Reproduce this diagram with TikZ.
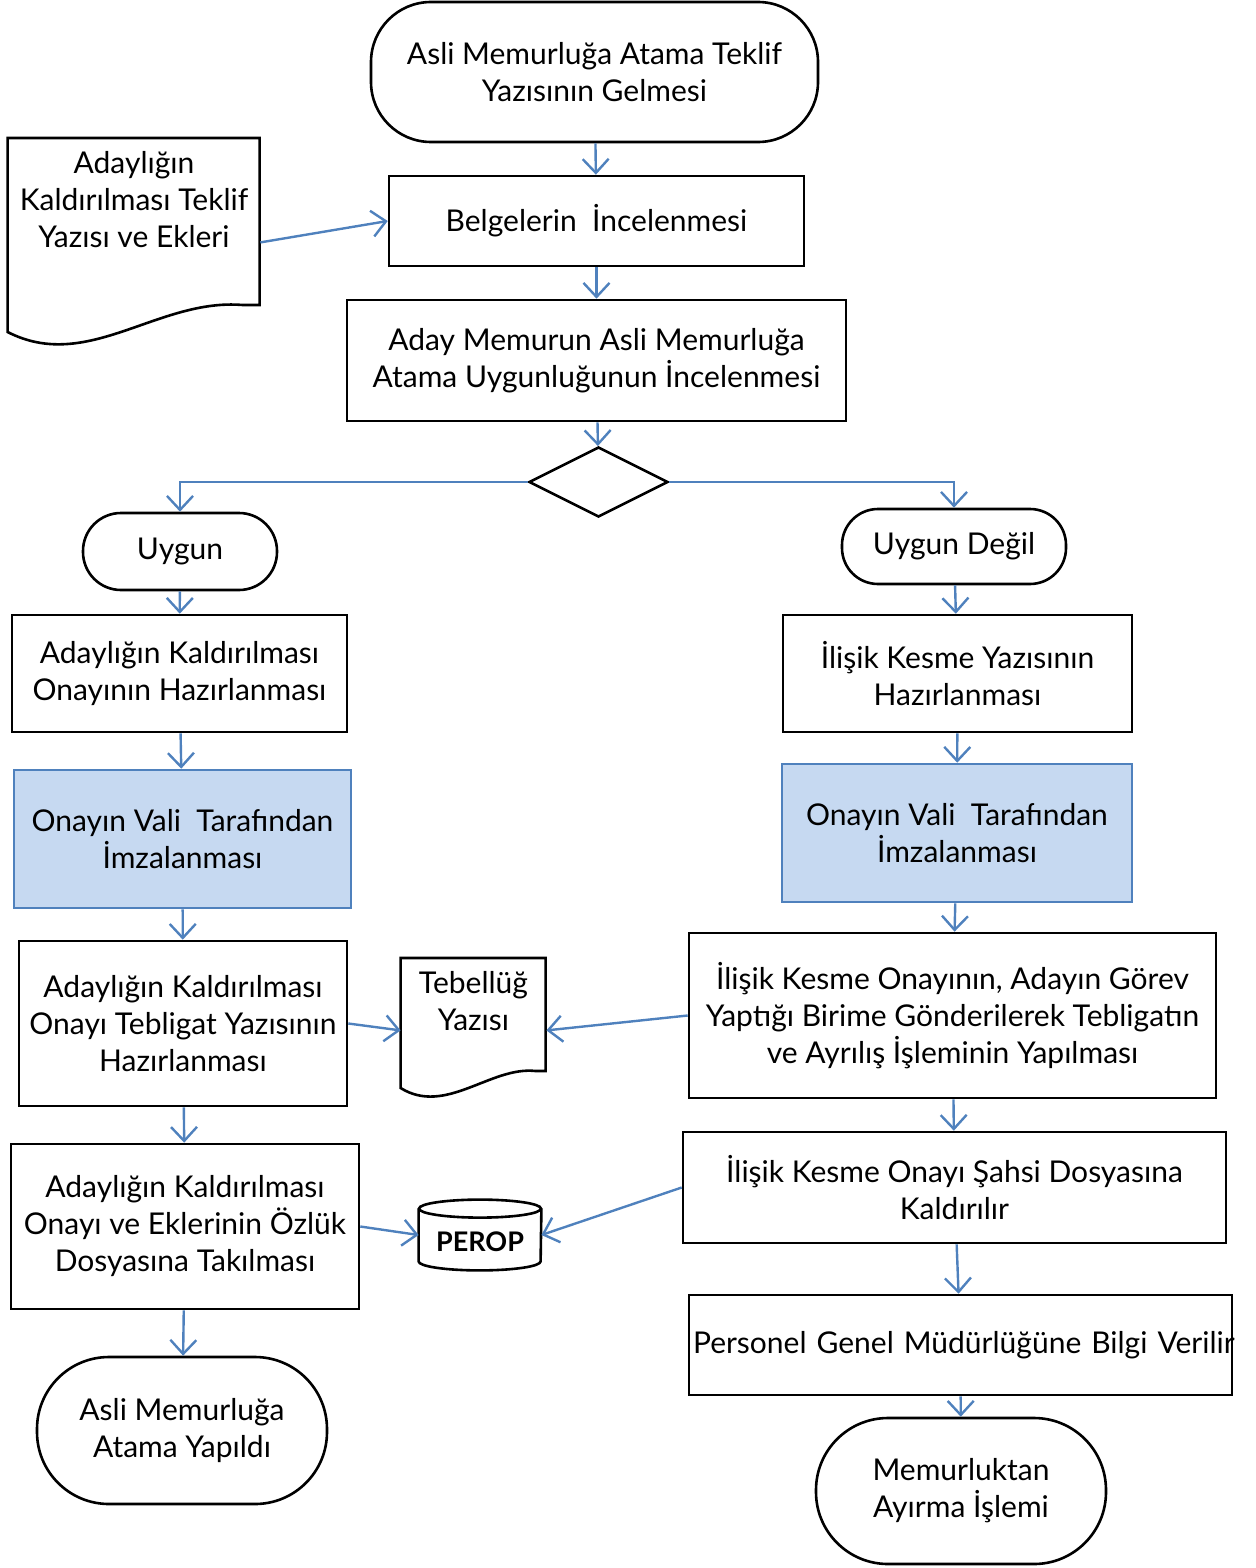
\documentclass[tikz,border=0pt]{standalone}
\usepackage{fontspec}
\setmainfont{Lato}
\usetikzlibrary{shapes.geometric,arrows.meta,calc}
\definecolor{lineblue}{RGB}{79,129,189}
\definecolor{fillblue}{RGB}{198,217,241}
\newcommand\flowfont{\fontsize{15}{18.5}\selectfont}

\begin{document}
\begin{tikzpicture}[
x=0.5pt,
y=-0.5pt,
shapeline/.style={
  draw,
  line width=1.3pt
  },
box/.style={
  shapeline,
  rectangle,
  align=center,
  inner sep=2pt,
  font=\flowfont
  },
term/.style={
  box,
  rounded corners=#1
  },
bluebox/.style={
  box,
  draw=lineblue,
  fill=fillblue
  },
plain/.style={
  draw=none,
  fill=none,
  inner sep=0pt
  },
doctext/.style={
  anchor=north,
  align=center,
  inner ysep=6.5pt,
  font=\flowfont
  },
flow/.style={
  ->,
  draw=lineblue,
  line width=1.2pt
  },
>={Straight Barb[length=7pt,width=13pt]}
]
\useasboundingbox (0,0) rectangle (1256,1568);

% top part
\node[term=30pt, minimum width=223.5pt, minimum height=70pt] (start) at (594.5,72)
  {Asli Memurluğa Atama Teklif\\Yazısının Gelmesi};
\node[plain, minimum width=126pt, minimum height=104pt, anchor=north,
  label={[doctext]north:{Adaylığın\\Kaldırılması Teklif\\Yazısı ve Ekleri}}] (teklif) at (134,138) {};
\node[box, minimum width=207.5pt, minimum height=45pt] (incele) at (596.5,221)
  {Belgelerin~~İncelenmesi};
\node[box, minimum width=249.5pt, minimum height=60.5pt] (uygunluk) at (596.5,360.5)
  {Aday Memurun Asli Memurluğa\\Atama Uygunluğunun İncelenmesi};
\node[shapeline, diamond, minimum width=69.5pt, minimum height=35pt, inner sep=0pt] (karar) at (598.5,482) {};

% left branch
\node[term=19pt, minimum width=97pt, minimum height=38.5pt] (uygun) at (180,551.5) {Uygun};
\node[box, minimum width=167.5pt, minimum height=58.5pt] (onayhaz) at (179.5,673.5)
  {Adaylığın Kaldırılması\\Onayının Hazırlanması};
\node[bluebox, minimum width=168.5pt, minimum height=69pt] (valiL) at (182.5,839)
  {Onayın Vali~~Tarafından\\İmzalanması};
\node[box, minimum width=164pt, minimum height=82.5pt] (tebligat) at (183,1023.5)
  {Adaylığın Kaldırılması\\Onayı Tebligat Yazısının\\Hazırlanması};
\node[plain, minimum width=72.5pt, minimum height=72pt, anchor=north,
  label={[doctext]north:{Tebellüğ\\Yazısı}}] (tebellug) at (473.5,958) {};
\node[box, minimum width=174pt, minimum height=82.5pt] (ozluk) at (185,1226.5)
  {Adaylığın Kaldırılması\\Onayı ve Eklerinin Özlük\\Dosyasına Takılması};
\node[plain, minimum width=61pt, minimum height=35pt, font=\fontsize{13.5}{16}\selectfont\bfseries] (perop) at (480,1235)
  {\raisebox{-3.5pt}[\height][\depth]{PEROP}};
\node[term=36pt, minimum width=145pt, minimum height=73.5pt] (atama) at (182,1430.5)
  {Asli Memurluğa\\Atama Yapıldı};

% right branch
\node[term=18pt, minimum width=112pt, minimum height=37.5pt] (uygundegil) at (954,546.5) {Uygun Değil};
\node[box, minimum width=174.5pt, minimum height=58.5pt] (ilisik) at (957.5,673.5)
  {İlişik Kesme Yazısının\\Hazırlanması};
\node[bluebox, minimum width=175pt, minimum height=69pt] (valiR) at (957,833)
  {Onayın Vali~~Tarafından\\İmzalanması};
\node[box, minimum width=263.5pt, minimum height=82.5pt] (ayrilis) at (952.5,1015.5)
  {İlişik Kesme Onayının, Adayın Görev\\Yaptığı Birime Gönderilerek Tebligatın\\ve Ayrılış İşleminin Yapılması};
\node[box, minimum width=271.5pt, minimum height=55.5pt] (sahsi) at (954.5,1187.5)
  {İlişik Kesme Onayı Şahsi Dosyasına\\Kaldırılır};
\node[box, text width=267.5pt, minimum height=50pt] (bilgi) at (960.5,1345)
  {\mbox{Personel Genel Müdürlüğüne Bilgi Verilir}};
\node[term=36pt, minimum width=145pt, minimum height=73pt] (ayirma) at (961,1491)
  {Memurluktan\\Ayırma İşlemi};

% document and database outlines
\begin{scope}[shift={(teklif.north west)}]
\draw[shapeline] (0,0) -- (252,0) -- (252,167) -- (235,167)
  .. controls (150,160) and (80,235) .. (0,194) -- cycle;
\end{scope}
\begin{scope}[shift={(tebellug.north west)}]
\draw[shapeline] (0,0) -- (145,0) -- (145,113) -- (135,113)
  .. controls (90,108) and (45,158) .. (0,130) -- cycle;
\end{scope}
\draw[shapeline] ([yshift=-4.5pt]perop.north west) -- ([yshift=4.5pt]perop.south west)
  arc[start angle=180, end angle=360, x radius=30.5pt, y radius=4.5pt]
  -- ([yshift=-4.5pt]perop.north east);
\draw[shapeline] ([yshift=-4.5pt]perop.north) ellipse[x radius=30.5pt, y radius=4.5pt];

% connectors
\draw[flow] (start) -- (incele);
\draw[flow] (teklif.east) -- (incele.west);
\draw[flow] (incele) -- (uygunluk);
\draw[flow] (uygunluk) -- (karar);
\draw[flow] (karar.west) -| (uygun.north);
\draw[flow] (karar.east) -| (uygundegil.north);
\draw[flow] (uygun) -- (onayhaz);
\draw[flow] (onayhaz) -- (valiL);
\draw[flow] (valiL) -- (tebligat);
\draw[flow] (tebligat) -- (ozluk);
\draw[flow] (tebligat.east) -- (tebellug.west);
\draw[flow] (ayrilis.west) -- (tebellug.east);
\draw[flow] (ozluk.east) -- (perop.west);
\draw[flow] (sahsi.west) -- (perop.east);
\draw[flow] (ozluk) -- (atama);
\draw[flow] (uygundegil) -- (ilisik);
\draw[flow] (ilisik) -- (valiR);
\draw[flow] (valiR) -- (ayrilis);
\draw[flow] (ayrilis) -- (sahsi);
\draw[flow] (sahsi) -- (bilgi);
\draw[flow] (bilgi) -- (ayirma);
\end{tikzpicture}
\end{document}
